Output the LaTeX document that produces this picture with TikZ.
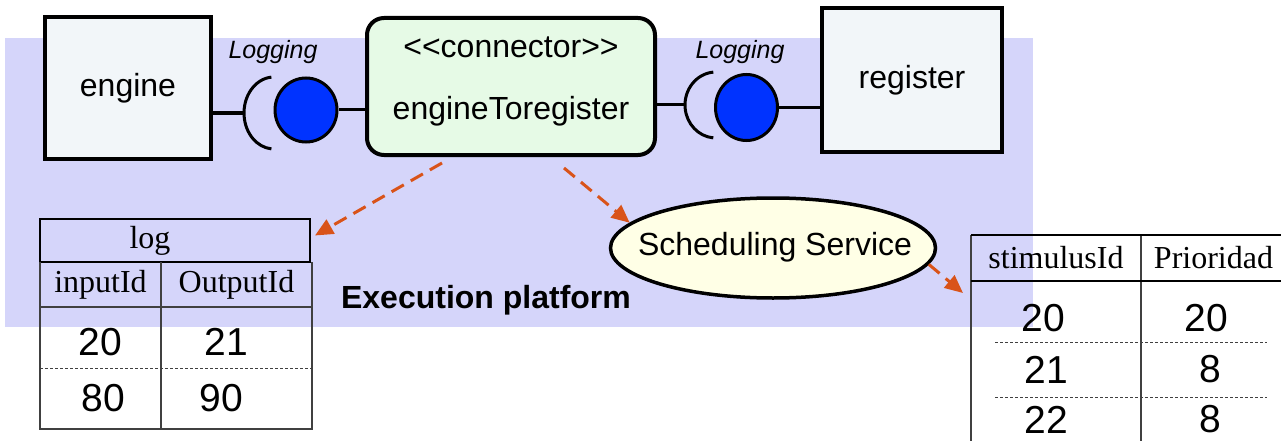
\documentclass[tikz,border=0pt]{standalone}
\usepackage{fontspec}
\setmainfont{Liberation Sans}
\newfontfamily\tabfont{Liberation Serif}
\usetikzlibrary{positioning,shapes.geometric,arrows.meta}

\definecolor{piattaforma}{RGB}{213,213,250}
\definecolor{scatola}{RGB}{242,246,249}
\definecolor{verdino}{RGB}{230,250,230}
\definecolor{blu}{RGB}{0,51,255}
\definecolor{crema}{RGB}{255,255,230}
\definecolor{arancio}{RGB}{217,83,25}

% abbassa il testo di una cella senza cambiarne la scatola
\newcommand{\giu}[2]{\raisebox{-#1}[\height][0pt]{#2}}

\begin{document}
\begin{tikzpicture}[x=1pt, y=1pt,
    comp/.style={draw, line width=4pt, fill=scatola, minimum width=166, minimum height=141,
      font=\fontsize{32}{38}\selectfont},
    filo/.style={line width=3pt},
    palla/.style={ellipse, draw, line width=3pt, fill=blu, inner sep=0, minimum width=62},
    dip/.style={arancio, line width=3pt, dash pattern=on 14pt off 8pt,
      -{Triangle[length=18pt,width=16pt]}},
    cella/.style={inner sep=0, outer sep=0, font=\tabfont\fontsize{32}{38}\selectfont},
    num/.style={inner sep=0, outer sep=0, font=\fontsize{39}{45}\selectfont},
    griglia/.style={line width=1.5pt, black!75},
    tratteggio/.style={line width=0.8pt, black!75, dash pattern=on 3pt off 2pt},
  ]
  \useasboundingbox (0,0) rectangle (1281,440);

  % Piattaforma di esecuzione (sfondo)
  \fill[piattaforma] (5,113) rectangle (1033,402);
  \node[font=\bfseries\fontsize{32}{38}\selectfont] (piatt) at (486,140) {Execution platform};

  % Componenti principali
  \node[comp] (eng) at (128,352) {engine};
  \node[comp, minimum width=180, minimum height=143] (reg) at (912,360) {register};
  \node[comp, rounded corners=17pt, fill=verdino, minimum width=288, minimum height=137]
    (conn) at (511,353.5) {};
  \node[font=\fontsize{32}{38}\selectfont] (stereo) at ([yshift=-31]conn.north)
    {<\kern0pt<connector>\kern0pt>};
  \node[font=\fontsize{32}{38}\selectfont] (nome) at ([yshift=-95]conn.north)
    {engineToregister};

  % Interfacce Logging (socket + pallina)
  \coordinate (sockL) at (274,327);
  \coordinate (sockR) at (716,335);
  \node[palla, minimum height=64] (ballL) at (306,330) {};
  \node[palla, minimum height=66] (ballR) at (746.5,332.5) {};
  \node[font=\itshape\fontsize{25}{30}\selectfont] (logL) at (273,388) {Logging};
  \node[font=\itshape\fontsize{25}{30}\selectfont] (logR) at (740,388) {Logging};

  \draw[filo] ([shift={(95:30 and 36)}]sockL) arc[start angle=95, end angle=265, x radius=30, y radius=36];
  \draw[filo] ([shift={(95:31 and 33)}]sockR) arc[start angle=95, end angle=265, x radius=31, y radius=33];
  \draw[filo] (eng.east |- sockL) -- ([xshift=-30]sockL);
  \draw[filo] (ballL.east) -- (ballL.east -| conn.west);
  \draw[filo] (conn.east |- sockR) -- ([xshift=-31]sockR);
  \draw[filo] (ballR.east) -- (ballR.east -| reg.west);

  % Servizio di scheduling
  \node[ellipse, draw, line width=3.5pt, fill=crema, inner sep=0, minimum width=325, minimum height=100]
    (sched) at (773,192) {};
  \node[font=\fontsize{32}{38}\selectfont] (schedTxt) at (775,193) {Scheduling Service};

  % Tabella log
  \node[draw, line width=2.5pt, inner sep=0, outer sep=0, minimum width=270, minimum height=43]
    (logHead) at (175,199.5) {};
  \node[cella] (logTit) at ([xshift=-25]logHead) {log};
  \node[cella, minimum width=121, minimum height=45, anchor=north west] (logIn) at (logHead.south west) {inputId};
  \node[cella, minimum width=151, minimum height=45, right=0pt of logIn] (logOut) {OutputId};
  \node[num, minimum width=121, minimum height=61, below=0pt of logIn] (l20) {\giu{4pt}{20}};
  \node[num, minimum width=151, minimum height=61, below=0pt of logOut] (l21) {\hspace*{-20pt}\giu{4pt}{21}};
  \node[num, minimum width=121, minimum height=61, below=0pt of l20] (l80) {\hspace*{6pt}80};
  \node[num, minimum width=151, minimum height=61, below=0pt of l21] (l90) {\hspace*{-30pt}90};
  \draw[griglia] (logIn.north west) -- (l80.south west) -- (l90.south east) -- (logOut.north east);
  \draw[griglia] (logIn.north east) -- (l80.south east);
  \draw[griglia] (logIn.south west) -- (logOut.south east);
  \draw[tratteggio] (l20.south west) -- (l21.south east);

  % Tabella priorita'
  \node[cella, minimum width=170, minimum height=46, anchor=north west] (stim) at (971,205) {stimulusId};
  \node[cella, minimum width=145, minimum height=46, right=0pt of stim] (prio) {Prioridad};
  \node[num, minimum width=170, minimum height=61, below=0pt of stim] (s20) {\hspace*{-26pt}\giu{6pt}{20}};
  \node[num, minimum width=145, minimum height=61, below=0pt of prio] (p20) {\hspace*{-14pt}\giu{6pt}{20}};
  \node[num, minimum width=170, minimum height=55, below=0pt of s20] (s21) {\hspace*{-20pt}21};
  \node[num, minimum width=145, minimum height=55, below=0pt of p20] (p8a) {\hspace*{-6pt}8};
  \node[num, minimum width=170, minimum height=45, below=0pt of s21] (s22) {\hspace*{-20pt}22};
  \node[num, minimum width=145, minimum height=45, below=0pt of p8a] (p8b) {\hspace*{-6pt}8};
  \draw[griglia] (stim.north west) -- (s22.south west);
  \draw[griglia] (stim.north east) -- (s22.south east);
  \draw[griglia, black] (stim.north west) -- (prio.north east);
  \draw[griglia, black] (stim.south west) -- (prio.south east);
  \draw[tratteggio] ([xshift=24]s20.south west) -- ([xshift=-19]p20.south east);
  \draw[tratteggio] ([xshift=24]s21.south west) -- ([xshift=-19]p8a.south east);

  % Dipendenze
  \draw[dip] ([xshift=-69,yshift=-6]conn.south) -- ([xshift=5,yshift=5]logHead.east);
  \draw[dip] ([xshift=53,yshift=-11]conn.south) -- (sched.170);
  \draw[dip] (sched.-6) -- ([xshift=-8,yshift=-12]stim.south west);
\end{tikzpicture}
\end{document}
